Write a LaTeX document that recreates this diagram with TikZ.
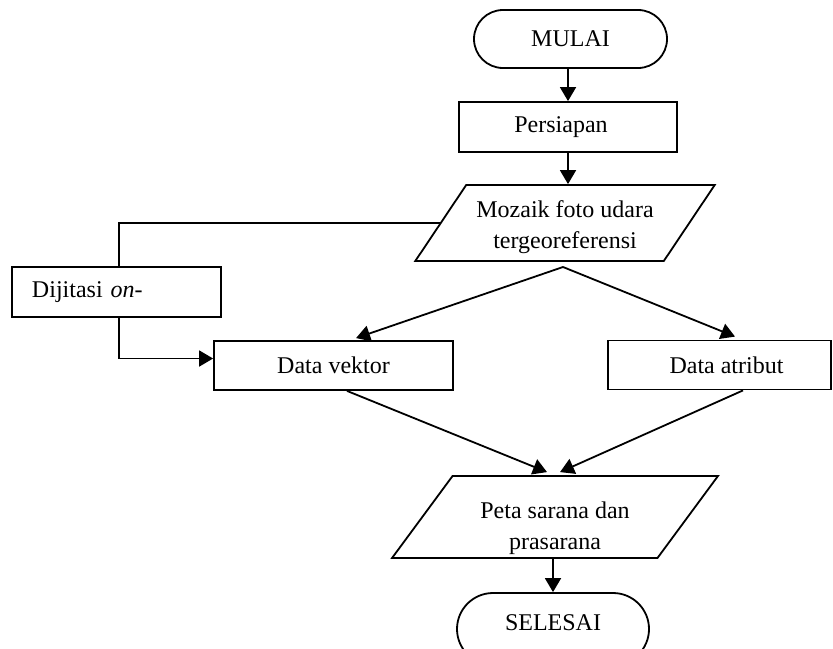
\documentclass[tikz,border=0pt]{standalone}
\usepackage{fontspec}
\setmainfont{Liberation Serif}
\usetikzlibrary{shapes.geometric,shapes.misc,arrows.meta,calc}
\begin{document}
\begin{tikzpicture}[x=0.5pt,y=-0.5pt,
  line width=0.9pt,
  every node/.style={font=\fontsize{12}{15}\selectfont},
  every label/.style={font=\fontsize{12}{15}\selectfont,inner sep=0pt,align=center},
  arr/.style={-{Triangle[length=7pt,width=8pt]}},
  term/.style={draw,rounded rectangle,minimum width=96.5pt,minimum height=29pt,inner sep=0pt},
  boxnode/.style={draw,rectangle,inner sep=0pt},
  para/.style={draw,trapezium,trapezium stretches=true,inner sep=0pt,align=center}]
\useasboundingbox (0,0) rectangle (833,648);
\clip (0,0) rectangle (833,648);
\node[term] (mulai) at (570.5,39) {\raisebox{-7.5pt}{\smash{MULAI}}};
\node[boxnode,minimum width=109pt,minimum height=25pt] (pers) at (568,127) {Persiapan\hspace*{7pt}};
\node[para,trapezium left angle=51,trapezium right angle=129,minimum width=150pt,minimum height=38pt,
  label={[name=mozt,yshift=-2pt]center:{Mozaik foto udara\\[0.6pt]tergeoreferensi}}] (moz) at (565,223)
  {\phantom{\begin{tabular}{@{}c@{}}Mozaik foto udara\\[-1.8pt]tergeoreferensi\end{tabular}}};
\node[boxnode,minimum width=104.5pt,minimum height=25pt,text width=84.5pt,inner xsep=10pt,align=left] (dij) at (116.5,292) {Dijitasi \textit{on-}};
\node[boxnode,minimum width=119.5pt,minimum height=24.5pt] (vek) at (333.5,365.5) {Data vektor};
\node[boxnode,minimum width=111.5pt,minimum height=24.5pt] (atr) at (719.5,365) {\hspace*{7pt}Data atribut};
\node[para,trapezium left angle=52,trapezium right angle=128,minimum width=163pt,minimum height=41pt,
  label={[name=petat,yshift=-5.5pt]center:{Peta sarana dan\\[0.6pt]prasarana}}] (peta) at (555,517)
  {\phantom{\begin{tabular}{@{}c@{}}Peta sarana dan\\[-1.8pt]prasarana\end{tabular}}};
\node[term,minimum width=96pt,minimum height=36pt] (sel) at (553,629) {\raisebox{-1pt}{\smash{SELESAI}}};
\coordinate (split) at (563,267);
\draw[arr] (mulai.south -| pers.north) -- (pers.north);
\draw[arr] (pers.south) -- (pers.south |- moz.north);
\draw[arr] (split) -- ([xshift=11.25pt,yshift=1pt]vek.north);
\draw[arr] (split) -- ([xshift=7.75pt,yshift=1.5pt]atr.north);
\draw (moz.west) -| ([xshift=1.25pt]dij.north);
\draw[arr] ([xshift=1.25pt]dij.south) |- ([yshift=3.5pt]vek.west);
\draw[arr] ([xshift=6.75pt]vek.south) -- ([xshift=-4pt,yshift=1.5pt]peta.north);
\draw[arr] ([xshift=11.75pt]atr.south) -- ([xshift=2.5pt,yshift=1.5pt]peta.north);
\draw[arr] (peta.south -| sel.north) -- (sel.north);
\end{tikzpicture}
\end{document}
